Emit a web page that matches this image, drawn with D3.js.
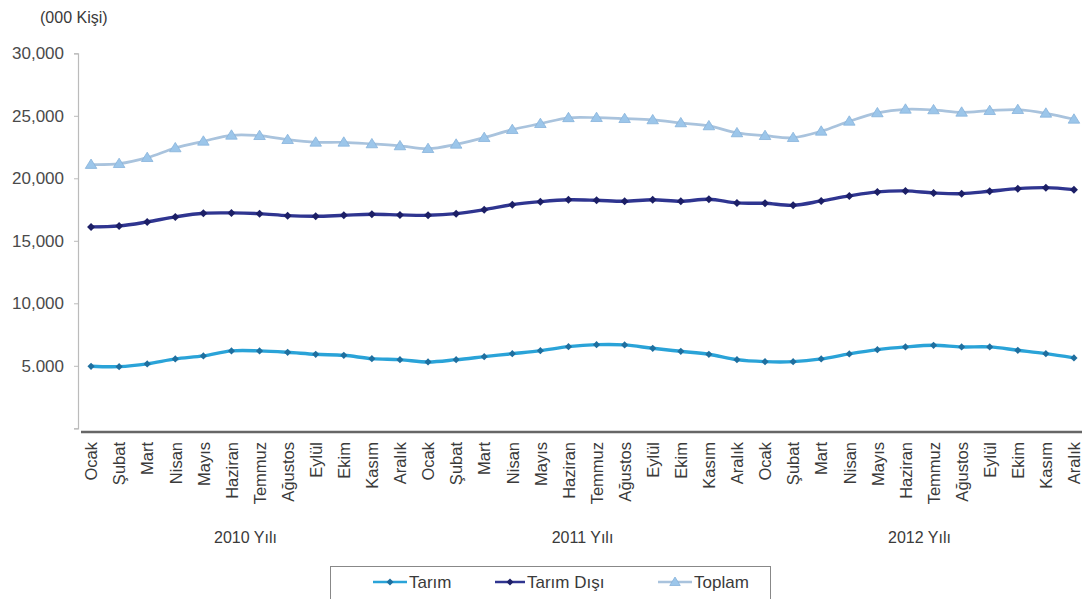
<!DOCTYPE html>
<html>
<head>
<meta charset="utf-8">
<script src="https://cdn.jsdelivr.net/npm/d3@7/dist/d3.min.js"></script>
<style>
  html, body { margin: 0; padding: 0; background: #fff; }
  svg { display: block; font-family: "Liberation Sans", Arial, sans-serif; }
</style>
</head>
<body>
<svg id="chart" width="1082" height="599"></svg>
<script>
const months = ["Ocak","Şubat","Mart","Nisan","Mayıs","Haziran","Temmuz","Ağustos","Eylül","Ekim","Kasım","Aralık"];
const years = ["2010 Yılı","2011 Yılı","2012 Yılı"];
const categories = [].concat(months, months, months);

const tarim = [4960,4930,5150,5550,5790,6190,6190,6080,5920,5840,5570,5490,
               5310,5490,5730,5970,6210,6530,6690,6670,6400,6160,5920,5490,
               5330,5330,5550,5950,6290,6510,6640,6510,6510,6240,5970,5630];
const tarimDisi = [16110,16190,16510,16910,17200,17230,17170,17010,16960,17040,17120,17070,
                   17040,17170,17490,17890,18130,18280,18240,18160,18290,18160,18320,18030,
                   18000,17840,18190,18590,18910,18990,18830,18770,18960,19170,19250,19090];
const toplam = [21100,21170,21650,22430,22960,23440,23410,23090,22880,22880,22750,22590,
                22370,22720,23250,23890,24370,24840,24850,24770,24670,24430,24190,23630,
                23410,23250,23760,24560,25230,25520,25470,25280,25410,25490,25200,24720];
const yTicks = [0,5000,10000,15000,20000,25000,30000];
const yTickLabels = ["","5.000","10,000","15,000","20,000","25,000","30,000"];
const seriesNames = ["Tarım","Tarım Dışı","Toplam"];

const svg = d3.select("#chart");
const idx = d3.range(categories.length);
const x = d3.scalePoint().domain(idx).range([77, 1088]).padding(0.5);
const y = d3.scaleLinear().domain([0, 30000]).range([428.3, 53.3]);

// Title
svg.append("text").attr("x", 40).attr("y", 23).attr("font-size", 16)
  .attr("fill", "#3a3a3a").text("(000 Kişi)");

// Y axis
const ya = svg.append("g").attr("transform", "translate(78,0)")
  .call(d3.axisLeft(y).tickValues(yTicks).tickSize(4).tickPadding(10)
    .tickFormat((d, i) => yTickLabels[i]));
ya.select(".domain").attr("stroke", "#bbb").attr("stroke-width", 1.2);
ya.selectAll(".tick line").attr("stroke", "#bbb");
ya.selectAll(".tick text").attr("font-size", 17).attr("fill", "#4a4a4a")
  .attr("font-family", "Liberation Sans, Arial, sans-serif");

// X axis
const xa = svg.append("g").attr("transform", "translate(0,432)")
  .call(d3.axisBottom(x).tickSize(0).tickPadding(0).tickFormat(i => categories[i]));
xa.select(".domain").attr("stroke", "#666").attr("stroke-width", 2.5)
  .attr("d", "M81,0H1082");
xa.selectAll(".tick text")
  .attr("font-size", 16.5).attr("fill", "#3a3a3a")
  .attr("font-family", "Liberation Sans, Arial, sans-serif")
  .attr("text-anchor", "end")
  .attr("transform", "translate(0,10) rotate(-90)")
  .attr("dx", 0).attr("dy", "0.35em").attr("x", 0).attr("y", 0);

// Year labels
years.forEach((yr, k) => {
  const cx = (x(k * 12) + x(k * 12 + 11)) / 2;
  svg.append("text").attr("x", cx).attr("y", 543).attr("text-anchor", "middle")
    .attr("font-size", 16).attr("fill", "#3a3a3a").text(yr);
});

const line = d3.line().x((d, i) => x(i)).y(d => y(d)).curve(d3.curveCatmullRom.alpha(0.5));

function diamond(g, cx, cy, r, fill) {
  g.append("path").attr("d", `M${cx},${cy - r}L${cx + r},${cy}L${cx},${cy + r}L${cx - r},${cy}Z`)
    .attr("fill", fill);
}
function tri(g, cx, cy, r, fill, stroke) {
  g.append("path").attr("d", `M${cx},${cy - r}L${cx + r * 1.05},${cy + r * 0.7}L${cx - r * 1.05},${cy + r * 0.7}Z`)
    .attr("fill", fill).attr("stroke", stroke).attr("stroke-width", 0.8);
}

// Toplam
svg.append("path").datum(toplam).attr("d", line).attr("fill", "none")
  .attr("stroke", "#a9c3dd").attr("stroke-width", 2.7);
const gT = svg.append("g");
toplam.forEach((v, i) => tri(gT, x(i), y(v), 5.5, "#9cc6ea", "#86b2da"));

// Tarım Dışı
svg.append("path").datum(tarimDisi).attr("d", line).attr("fill", "none")
  .attr("stroke", "#2f3590").attr("stroke-width", 3.4);
const gD = svg.append("g");
tarimDisi.forEach((v, i) => diamond(gD, x(i), y(v), 4, "#1c1f66"));

// Tarım
svg.append("path").datum(tarim).attr("d", line).attr("fill", "none")
  .attr("stroke", "#2aa3d8").attr("stroke-width", 3.4);
const gA = svg.append("g");
tarim.forEach((v, i) => diamond(gA, x(i), y(v), 3.6, "#1f6f9f"));

// Legend
svg.append("rect").attr("x", 330.5).attr("y", 566.5).attr("width", 440).attr("height", 40)
  .attr("fill", "#fff").attr("stroke", "#888").attr("stroke-width", 1);
const legItems = [
  {name: seriesNames[0], x0: 373, x1: 407, tx: 409, color: "#2aa3d8", mk: "#1f6f9f", type: "d"},
  {name: seriesNames[1], x0: 495, x1: 525, tx: 527, color: "#2f3590", mk: "#1c1f66", type: "d"},
  {name: seriesNames[2], x0: 658, x1: 692, tx: 694, color: "#a9c3dd", mk: "#9cc6ea", type: "t"}
];
const gl = svg.append("g");
legItems.forEach(it => {
  gl.append("line").attr("x1", it.x0).attr("x2", it.x1).attr("y1", 582).attr("y2", 582)
    .attr("stroke", it.color).attr("stroke-width", 2.5);
  const cx = (it.x0 + it.x1) / 2;
  if (it.type === "d") diamond(gl, cx, 582, 3.5, it.mk);
  else tri(gl, cx, 582, 5, it.mk, "#86b2da");
  gl.append("text").attr("x", it.tx).attr("y", 588).attr("font-size", 17)
    .attr("fill", "#3a3a3a").text(it.name);
});
</script>
</body>
</html>
